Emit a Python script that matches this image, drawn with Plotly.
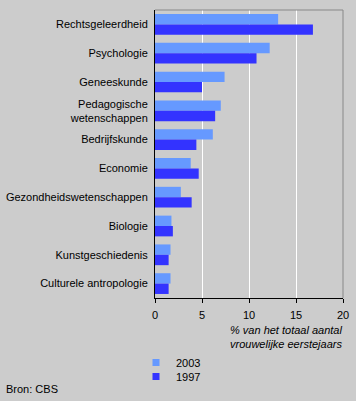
import plotly.graph_objects as go

categories = ["Rechtsgeleerdheid", "Psychologie", "Geneeskunde",
              "Pedagogische<br>wetenschappen", "Bedrijfskunde", "Economie",
              "Gezondheidswetenschappen", "Biologie", "Kunstgeschiedenis",
              "Culturele antropologie"]
values_2003 = [13.1, 12.2, 7.4, 7.0, 6.15, 3.8, 2.75, 1.75, 1.65, 1.65]
values_1997 = [16.8, 10.8, 5.0, 6.4, 4.4, 4.65, 3.9, 1.9, 1.45, 1.45]
x_ticks = [0, 5, 10, 15, 20]

FONT = "Liberation Sans, Arial, sans-serif"
W, H = 356, 401
L, R, T, B = 155, 13, 10, 103
PW, PH = W - L - R, H - T - B

fig = go.Figure()
fig.add_trace(go.Bar(y=categories, x=values_2003, orientation="h", name="2003",
                     marker=dict(color="#6699FF", line=dict(width=0)), showlegend=False))
fig.add_trace(go.Bar(y=categories, x=values_1997, orientation="h", name="1997",
                     marker=dict(color="#3333FF", line=dict(width=0)), showlegend=False))
# legend entries
fig.add_trace(go.Scatter(x=[None], y=[None], mode="markers", name="2003", legend="legend",
                         marker=dict(symbol="square", size=7, color="#6699FF")))
fig.add_trace(go.Scatter(x=[None], y=[None], mode="markers", name="1997", legend="legend2",
                         marker=dict(symbol="square", size=7, color="#3333FF")))

leg_common = dict(xref="container", yref="container", xanchor="left", yanchor="top",
                  bgcolor="rgba(0,0,0,0)", font=dict(size=11, family=FONT),
                  itemwidth=30)

fig.update_layout(
    width=W, height=H,
    margin=dict(l=L, r=R, t=T, b=B, autoexpand=False),
    paper_bgcolor="#CCCCCC", plot_bgcolor="#CCCCCC",
    font=dict(family=FONT, size=11, color="black"),
    barmode="group", bargap=0.28, bargroupgap=0,
    showlegend=True,
    legend=dict(x=136 / W, y=1 - 348 / H, **leg_common),
    legend2=dict(x=136 / W, y=1 - 362 / H, **leg_common),
    xaxis=dict(range=[0, 20], tickvals=x_ticks, showgrid=True, gridcolor="white",
               gridwidth=1, zeroline=False, showline=True, linecolor="black",
               ticks="outside", ticklen=4, tickcolor="black", automargin=False,
               ticklabelstandoff=3),
    yaxis=dict(autorange="reversed", showline=True, linecolor="black",
               ticks="", showgrid=False, zeroline=False, ticklabelstandoff=4,
               automargin=False),
    annotations=[
        dict(text="<i>% van het totaal aantal<br>vrouwelijke eerstejaars</i>",
             xref="paper", yref="paper", x=1.005, y=-0.085, xanchor="right",
             yanchor="top", align="right", showarrow=False,
             font=dict(size=11, family=FONT)),
        dict(text="Bron: CBS", xref="paper", yref="paper",
             x=(4 - L) / PW, y=-(381 - (T + PH)) / PH,
             xanchor="left", yanchor="top", showarrow=False,
             font=dict(size=11, family=FONT)),
    ],
    shapes=[
        dict(type="line", xref="paper", yref="paper", x0=0, x1=1, y0=1, y1=1,
             line=dict(color="#888888", width=1)),
        dict(type="line", xref="paper", yref="paper", x0=1, x1=1, y0=0, y1=1,
             line=dict(color="#888888", width=1)),
    ],
)

fig.write_html("out.html", config={"displayModeBar": False},
               post_script="document.body.style.margin='0';document.body.style.background='#CCCCCC';")
